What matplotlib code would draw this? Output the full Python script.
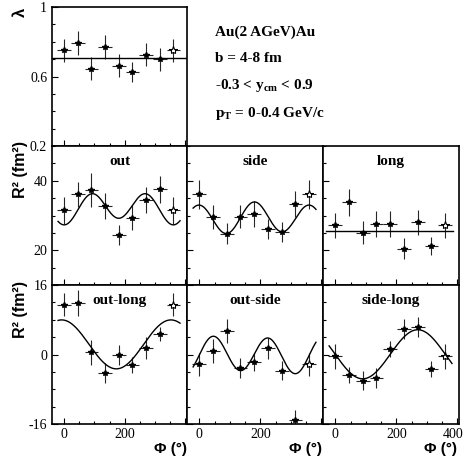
import numpy as np
import matplotlib.pyplot as plt
import matplotlib.transforms as mtransforms
from matplotlib.ticker import MultipleLocator, FixedLocator, NullFormatter

plt.rcParams['font.family'] = 'Liberation Serif'
plt.rcParams['mathtext.fontset'] = 'custom'
plt.rcParams['mathtext.rm'] = 'Liberation Serif:bold'
plt.rcParams['mathtext.it'] = 'Liberation Serif:bold'
plt.rcParams['mathtext.bf'] = 'Liberation Serif:bold'

# azimuthal bins (deg), bin half width
phi = np.array([0, 45, 90, 135, 180, 225, 270, 315])
dphi = 22.5

# lambda
lam = [0.75, 0.793, 0.645, 0.77, 0.662, 0.626, 0.726, 0.70]
lam_err = [0.067, 0.067, 0.065, 0.067, 0.067, 0.056, 0.067, 0.066]
lam_fit = 0.708

# radii squared (fm^2)
out = [31.5, 36.1, 37.3, 32.7, 24.5, 29.4, 34.4, 37.5]
out_err = [3.85, 3.6, 4.8, 3.7, 2.9, 3.5, 3.7, 3.9]
side = [36.1, 29.6, 24.8, 29.6, 30.4, 26.1, 25.3, 33.3]
side_err = [4.1, 3.4, 3.1, 3.3, 3.8, 2.8, 2.9, 3.7]
long_ = [27.2, 33.75, 25.1, 27.5, 27.5, 20.5, 28.0, 21.25]
long_err = [3.6, 3.85, 3.4, 3.7, 3.8, 2.9, 3.5, 2.6]
outlong = [11.5, 11.8, 0.5, -4.2, -0.2, -2.4, 1.5, 4.7]
outlong_err = [2.6, 3.0, 2.9, 2.3, 2.3, 1.9, 2.5, 1.7]
outside = [-2.3, 0.77, 5.36, -3.06, -1.76, 1.45, -3.7, -15.0]
outside_err = [2.55, 2.7, 2.8, 2.3, 2.1, 2.4, 2.1, 2.3]
sidelong = [-0.46, -4.7, -6.0, -5.36, 1.3, 5.9, 6.3, -3.3]
sidelong_err = [2.9, 1.9, 2.2, 2.3, 1.8, 2.3, 2.3, 1.9]

# fit parameters: const, cos(2phi), sin(2phi), cos(phi), sin(phi)
fit_out = [32.25, -4.0, 0.0, -0.95, 0.0]
fit_side = [29.25, 4.2, 0.0, -0.45, -0.25]
fit_long = [25.5, 0.0, 0.0, 0.0, 0.0]
fit_outlong = [2.33, 0.0, 0.0, 5.58, -0.78]
fit_outside = [-0.03, 0.0, 4.03, -0.11, 0.39]
fit_sidelong = [0.05, 0.0, 0.0, 0.0, -5.65]


def fourier(p, x):
    r = np.radians(x)
    return p[0] + p[1]*np.cos(2*r) + p[2]*np.sin(2*r) + p[3]*np.cos(r) + p[4]*np.sin(r)


W, H = 466, 457
fig = plt.figure(figsize=(W/100, H/100), dpi=100)
colx = [52, 187, 323, 459]
rowy = [7, 146, 285, 424]


def make_ax(c, r):
    l = colx[c]/W
    b = 1 - rowy[r+1]/H
    ax = fig.add_axes([l, b, (colx[c+1]-colx[c])/W, (rowy[r+1]-rowy[r])/H])
    ax.set_xlim(-40, 405)
    ax.xaxis.set_major_locator(FixedLocator([0, 200, 400]))
    ax.xaxis.set_minor_locator(MultipleLocator(50))
    ax.tick_params(which='both', direction='in', top=False, right=False,
                   labelsize=10, width=0.8)
    ax.tick_params(which='major', length=4.5)
    ax.tick_params(which='minor', length=2.2)
    ax.xaxis.set_major_formatter(NullFormatter())
    ax.yaxis.set_major_formatter(NullFormatter())
    for s in ax.spines.values():
        s.set_linewidth(1.2)
    return ax


def draw(ax, y, yerr, fit=None, xr=(-15, 378)):
    ax.errorbar(phi, y, yerr=yerr, xerr=dphi, fmt='none', ecolor='0.15',
                elinewidth=0.8, capsize=0)
    ax.plot(phi, y, ls='none', marker='*', ms=4, color='k')
    # repeated first bin at 360
    ax.errorbar([360], [y[0]], yerr=[yerr[0]], xerr=dphi, fmt='none',
                ecolor='0.15', elinewidth=0.8, capsize=0)
    ax.plot([360], [y[0]], ls='none', marker='*', ms=6, mfc='white',
            mec='k', mew=0.8)
    if fit is not None:
        xf = np.linspace(xr[0], xr[1], 300)
        ax.plot(xf, fourier(fit, xf), color='k', lw=1.0)


# lambda panel
ax = make_ax(0, 0)
ax.set_ylim(0.2, 1.0)
ax.yaxis.set_major_locator(FixedLocator([0.2, 0.6, 1.0]))
ax.yaxis.set_minor_locator(MultipleLocator(0.1))
ax.set_yticklabels(['0.2', '0.6', '1'])
draw(ax, lam, lam_err)
ax.axhline(lam_fit, color='k', lw=1.0)

titles = [['out', 'side', 'long'], ['out-long', 'out-side', 'side-long']]
data = [[(out, out_err, fit_out), (side, side_err, fit_side), (long_, long_err, fit_long)],
        [(outlong, outlong_err, fit_outlong), (outside, outside_err, fit_outside),
         (sidelong, sidelong_err, fit_sidelong)]]

for r in range(2):
    for c in range(3):
        ax = make_ax(c, r+1)
        y, ye, f = data[r][c]
        if r == 0:
            ax.set_ylim(10, 50)
            ax.yaxis.set_major_locator(FixedLocator([20, 40]))
            ax.yaxis.set_minor_locator(MultipleLocator(5))
            if c == 0:
                ax.set_yticklabels(['20', '40'])
        else:
            ax.set_ylim(-16, 16)
            ax.yaxis.set_major_locator(FixedLocator([-16, 0, 16]))
            ax.yaxis.set_minor_locator(MultipleLocator(4))
            if c == 0:
                ax.set_yticklabels(['-16', '0', '16'])
            ax.set_xticklabels(['0', '200', '400'] if c == 2 else ['0', '200', ''])
            ax.tick_params(axis='x', pad=3)
            if c == 2:
                # keep the last label inside the figure
                lab = ax.get_xticklabels()[2]
                lab.set_transform(lab.get_transform() +
                                  mtransforms.ScaledTranslation(-4/100, 0, fig.dpi_scale_trans))
        xr = (-30, 385) if f is fit_long else (-20, 382)
        draw(ax, y, ye, f, xr)
        ax.text(0.5, 0.885, titles[r][c], transform=ax.transAxes, ha='center',
                va='center', fontsize=11, fontweight='bold')

# axis titles
for yt in [141, 281]:
    fig.text(21/W, 1 - yt/H, 'R² (fm²)', rotation=90, ha='center', va='top',
             family='Liberation Sans', fontweight='bold', fontsize=11.5)
fig.text(20/W, 1 - 8/H, 'λ', rotation=90, ha='center', va='top',
         family='Liberation Sans', fontweight='bold', fontsize=12)
for xr_ in [187, 322, 457]:
    fig.text(xr_/W, 1 - 449/H, 'Φ (°)', ha='right', va='center',
             family='Liberation Sans', fontweight='bold', fontsize=11)

# run conditions
info = ['Au(2 AGeV)Au', 'b = 4-8 fm', r'-0.3 < y$_{\mathrm{cm}}$ < 0.9',
        r'p$_{\mathrm{T}}$ = 0-0.4 GeV/c']
for i, s in enumerate(info):
    fig.text(215/W, 1 - (32 + 27*i)/H, s, ha='left', va='center',
             fontsize=11, fontweight='bold')

fig.savefig('out.png', dpi=100)
